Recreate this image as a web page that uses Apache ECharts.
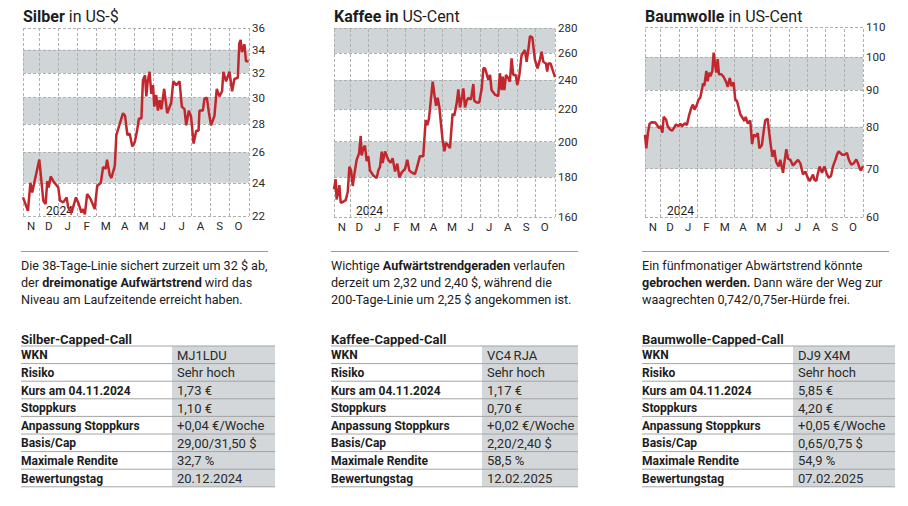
<!DOCTYPE html>
<html><head><meta charset="utf-8">
<script src="https://cdn.jsdelivr.net/npm/echarts@6/dist/echarts.min.js"></script>
<style>html,body{margin:0;padding:0;background:#fff}#c{width:908px;height:506px}</style>
</head><body><div id="c"></div>
<script>
const months = ['N','D','J','F','M','A','M','J','J','A','S','O'];
const monthCenters = [0.57,1.5,2.5,3.5,4.5,5.5,6.5,7.5,8.5,9.5,10.5,11.5];
const monthBounds = [1,2,3,4,5,6,7,8,9,10,11];
const xRange = [0.14, 12.05];
const yearLabel = '2024';

const silverTicks = [22,24,26,28,30,32,34,36];
const silverT = [0.14,0.40,0.53,0.63,0.75,1.00,1.21,1.33,1.42,1.49,1.60,1.74,2.00,2.09,2.26,2.44,2.52,2.70,2.93,3.08,3.22,3.31,3.40,3.52,3.70,3.92,4.05,4.24,4.36,4.50,4.57,4.71,4.80,4.98,5.06,5.24,5.41,5.52,5.64,5.76,5.90,6.03,6.15,6.25,6.38,6.46,6.57,6.64,6.71,6.81,6.90,6.99,7.06,7.16,7.25,7.34,7.43,7.58,7.74,7.95,8.06,8.22,8.39,8.51,8.65,8.74,8.88,9.00,9.13,9.27,9.39,9.44,9.62,9.70,9.83,9.93,10.05,10.23,10.35,10.49,10.63,10.70,10.84,11.02,11.16,11.28,11.46,11.54,11.61,11.68,11.81,11.89,12.03];
const silverV = [23.1,22.3,24.0,23.4,24.1,25.5,22.9,22.7,24.1,23.7,24.4,24.1,23.7,22.9,22.8,23.1,22.5,22.2,23.1,22.7,22.2,22.4,22.1,23.3,23.0,22.4,23.8,24.0,25.0,24.9,25.5,24.5,24.3,25.1,27.2,28.0,28.8,28.6,27.2,27.3,26.4,26.7,27.5,28.4,28.4,31.4,31.8,30.1,31.3,32.1,30.3,31.0,29.3,30.2,29.0,29.8,29.1,30.7,28.8,29.6,31.3,31.0,31.3,29.3,29.1,27.9,29.0,28.5,26.6,27.5,27.5,29.0,29.0,29.9,30.0,28.9,27.9,28.6,30.7,30.1,30.5,32.1,31.3,32.1,30.5,31.5,31.6,34.6,34.9,33.8,34.5,33.0,33.0];

const kaffeeTicks = [160,180,200,220,240,260,280];
const kaffeeT = [0.14,0.23,0.28,0.37,0.43,0.50,0.64,0.77,0.88,0.97,1.06,1.15,1.24,1.36,1.49,1.58,1.63,1.72,1.81,1.90,1.99,2.08,2.26,2.44,2.53,2.62,2.71,2.76,2.89,3.07,3.19,3.30,3.43,3.55,3.66,3.79,3.97,4.09,4.20,4.32,4.50,4.59,4.77,4.95,5.08,5.17,5.26,5.35,5.46,5.55,5.64,5.73,5.82,5.90,5.99,6.09,6.17,6.26,6.39,6.53,6.62,6.75,6.84,6.93,7.04,7.11,7.20,7.29,7.38,7.52,7.65,7.70,7.83,7.97,8.10,8.19,8.28,8.46,8.55,8.63,8.81,8.99,9.08,9.17,9.23,9.32,9.41,9.53,9.62,9.71,9.80,9.93,10.02,10.13,10.25,10.43,10.52,10.61,10.70,10.83,10.97,11.11,11.24,11.33,11.42,11.56,11.63,11.69,11.81,11.92,12.05];
const kaffeeV = [173.7,178.9,168.5,172.3,175.8,166.9,167.4,168.2,172.3,185.7,183.6,175.4,181.9,189.4,193.2,203.4,192,196,197.7,188.8,191.6,183.6,180.9,179.6,183.6,185.7,194.2,187.8,194.2,189.4,187.9,190.4,183.1,187.4,179.9,182.6,184.5,189.6,183.6,182.6,181.7,184.5,191.6,191.6,213.2,209.9,214.3,225.1,238.9,229.9,222.4,227.7,221.3,211.2,201.3,194.4,199.2,198.2,196.2,217.1,216.0,224.0,233.5,221.3,228.4,234.2,221.3,225.7,227.7,226.6,237.2,225.7,224.6,224.6,234.2,248.5,248.5,240.1,243.7,233.0,229.9,228.9,244.9,233.0,242.4,233.0,243.7,241.3,238.9,255.9,243.7,243.7,236.5,243.7,258.4,262.3,253.4,262.3,273.3,272.2,254.7,248.5,255.2,261.0,253.4,252.1,246.1,252.1,252.1,247.3,242.1];

const baumTicks = [60,70,80,90,100,110];
const baumT = [0.14,0.21,0.30,0.39,0.52,0.70,0.83,0.92,1.01,1.09,1.16,1.29,1.38,1.49,1.62,1.71,1.83,1.98,2.07,2.16,2.31,2.43,2.56,2.67,2.76,2.84,2.94,3.07,3.16,3.27,3.31,3.38,3.49,3.56,3.64,3.71,3.82,3.89,3.96,4.04,4.11,4.18,4.31,4.44,4.58,4.66,4.77,4.86,4.98,5.07,5.17,5.35,5.46,5.57,5.64,5.75,5.89,5.99,6.08,6.20,6.30,6.39,6.53,6.62,6.71,6.84,6.93,7.02,7.11,7.21,7.30,7.44,7.53,7.68,7.75,7.86,7.95,8.08,8.22,8.41,8.50,8.63,8.77,8.90,9.03,9.14,9.32,9.39,9.50,9.57,9.68,9.81,9.94,10.05,10.17,10.30,10.41,10.54,10.63,10.72,10.81,10.90,11.03,11.17,11.28,11.41,11.54,11.68,11.78,11.87,11.94,12.05];
const baumV = [78.0,74.7,78.4,80.8,81.2,81.1,80.2,79.6,80.2,78.5,82.6,81.9,80.2,79.4,79.0,79.6,80.6,80.2,80.8,80.1,80.9,80.5,83.2,85.0,85.9,84.5,85.4,87.3,87.8,90.6,91.9,91.1,95.6,92.5,95.1,94.0,95.6,101.4,97.8,95.1,99.3,94.6,94.6,93.8,92.2,90.9,93.5,91.1,92.2,87.3,86.8,83.2,82.4,81.5,82.6,80.9,81.6,75.7,78.0,77.6,78.4,74.7,75.5,78.8,81.7,82.1,78.4,75.1,72.7,74.3,71.6,70.5,72.0,69.1,71.2,74.5,72.3,72.0,70.7,71.6,72.0,71.2,68.7,69.4,68.0,67.3,68.7,67.6,67.3,68.7,70.5,69.1,70.5,69.1,68.0,68.4,70.5,72.0,73.2,74.0,73.6,73.2,73.2,73.6,72.0,70.9,71.2,72.1,71.2,70.0,69.6,70.6];

const rowLabels = ['WKN','Risiko','Kurs am 04.11.2024','Stoppkurs','Anpassung Stoppkurs','Basis/Cap','Maximale Rendite','Bewertungstag'];
const silverTable = ['MJ1LDU','Sehr hoch','1,73 €','1,10 €','+0,04 €/Woche','29,00/31,50 $','32,7 %','20.12.2024'];
const kaffeeTable = ['VC4\u2009RJA','Sehr hoch','1,17 €','0,70 €','+0,02 €/Woche','2,20/2,40 $','58,5 %','12.02.2025'];
const baumTable = ['DJ9\u2009X4M','Sehr hoch','5,85 €','4,20 €','+0,05 €/Woche','0,65/0,75 $','54,9 %','07.02.2025'];

const silverText = ['Die 38-Tage-Linie sichert zurzeit um 32 $ ab,','der {b|dreimonatige Aufwärtstrend} wird das','Niveau am Laufzeitende erreicht haben.'];
const kaffeeText = ['Wichtige {b|Aufwärtstrendgeraden} verlaufen','derzeit um 2,32 und 2,40 $, während die','200-Tage-Linie um 2,25 $ angekommen ist.'];
const baumText = ['Ein fünfmonatiger Abwärtstrend könnte','{b|gebrochen werden.} Dann wäre der Weg zur','waagrechten 0,742/0,75er-Hürde frei.'];

const panels = [
  {name:'Silber', unit:' in US-$', t:silverT, v:silverV, ticks:silverTicks, text:silverText, table:silverTable, tableTitle:'Silber-Capped-Call'},
  {name:'Kaffee in', unit:' US-Cent', t:kaffeeT, v:kaffeeV, ticks:kaffeeTicks, text:kaffeeText, table:kaffeeTable, tableTitle:'Kaffee-Capped-Call'},
  {name:'Baumwolle', unit:' in US-Cent', t:baumT, v:baumV, ticks:baumTicks, text:baumText, table:baumTable, tableTitle:'Baumwolle-Capped-Call'}
];

// layout only
const FF = 'Roboto, "Noto Sans", sans-serif';
const layout = [
  {grid:{left:23, top:28, width:226, height:188}, x0:21, box:[172,275], sep:268, yr:46},
  {grid:{left:334, top:28, width:221, height:189}, x0:331, box:[482,578], sep:578, yr:356},
  {grid:{left:645, top:27, width:218, height:190}, x0:642, box:[793,895], sep:889, yr:667}
];
const RED = '#c1272d', BAND = '#d0d5d7', GRIDC = '#b0b0b0', TXT = '#1c1c1c';

const grids = [], xAxes = [], yAxes = [], series = [], graphics = [];
panels.forEach((p, i) => {
  const L = layout[i];
  grids.push(L.grid);
  xAxes.push({type:'value', gridIndex:i, min:xRange[0], max:xRange[1],
    axisLine:{show:false}, axisTick:{show:false}, splitLine:{show:false},
    axisLabel:{customValues:monthCenters, margin:4, color:'#2a2a2a', fontSize:11.5, fontFamily:FF,
      formatter: v => { let k = 0, d = 1e9; monthCenters.forEach((c, j) => { if (Math.abs(c - v) < d) { d = Math.abs(c - v); k = j; } }); return months[k]; }}});
  yAxes.push({type:'log', gridIndex:i, position:'right', min:p.ticks[0], max:p.ticks[p.ticks.length-1],
    axisLine:{show:false}, axisTick:{show:false}, splitLine:{show:false},
    axisLabel:{customValues:p.ticks, margin:3, color:'#2a2a2a', fontSize:11.5, fontFamily:FF}});
  const bands = [];
  for (let k = 1; k + 1 < p.ticks.length; k += 2) bands.push([{yAxis:p.ticks[k]}, {yAxis:p.ticks[k+1]}]);
  const lines = p.ticks.map(v => ({yAxis:v}))
    .concat([xRange[0]].concat(monthBounds, [xRange[1]]).map(v => ({xAxis:v})));
  series.push({type:'line', xAxisIndex:i, yAxisIndex:i, data:p.t.map((t, k) => [t, p.v[k]]),
    symbol:'none', silent:true, z:5, lineStyle:{color:RED, width:2.5}, itemStyle:{color:RED},
    markArea:{silent:true, itemStyle:{color:BAND}, data:bands},
    markLine:{silent:true, symbol:['none','none'], label:{show:false}, animation:false,
      lineStyle:{color:GRIDC, type:[3,2], width:1}, data:lines}});

  // title
  graphics.push({type:'text', style:{x:L.grid.left, y:16, text:'{b|' + p.name + '}' + p.unit,
    fontFamily:FF, fontSize:16, fill:TXT, verticalAlign:'middle', textVerticalAlign:'middle',
    rich:{b:{fontWeight:'bold', fontFamily:FF, fontSize:16, fill:TXT}}}});
  graphics.push({type:'text', style:{x:L.yr, y:211, text:yearLabel, fontFamily:FF, fontSize:12, fill:TXT, verticalAlign:'middle', textVerticalAlign:'middle'}});
  // separator
  graphics.push({type:'line', shape:{x1:L.x0, y1:251.5, x2:L.sep, y2:251.5}, style:{stroke:'#9a9a9a', lineWidth:1}});
  p.text.forEach((s, k) => {
    graphics.push({type:'text', style:{x:L.x0, y:265 + k*17.3, text:s, fontFamily:FF, fontSize:12.6, fill:TXT,
      verticalAlign:'middle', textVerticalAlign:'middle', rich:{b:{fontWeight:'bold', fontFamily:FF, fontSize:12.6, fill:TXT}}}});
  });
  // table
  graphics.push({type:'text', style:{x:L.x0, y:339, text:p.tableTitle, fontFamily:FF, fontSize:13, fontWeight:'bold', fill:TXT, verticalAlign:'middle', textVerticalAlign:'middle'}});
  const top = 346, rh = 17.6;
  graphics.push({type:'rect', shape:{x:L.box[0], y:top, width:L.box[1]-L.box[0], height:rh*rowLabels.length}, style:{fill:'#d3d7d9'}});
  for (let r = 0; r <= rowLabels.length; r++) {
    graphics.push({type:'line', shape:{x1:L.x0, y1:top + r*rh, x2:L.box[1], y2:top + r*rh}, style:{stroke:'#a4a4a4', lineWidth:1}});
  }
  rowLabels.forEach((lab, r) => {
    graphics.push({type:'text', style:{x:L.x0, y:top + r*rh + rh/2 + 0.5, text:lab, fontFamily:FF, fontSize:12, fontWeight:'bold', fill:TXT, verticalAlign:'middle', textVerticalAlign:'middle'}});
    graphics.push({type:'text', style:{x:L.box[0] + 5, y:top + r*rh + rh/2 + 0.5, text:p.table[r], fontFamily:FF, fontSize:13, fill:'#2a2a2a', verticalAlign:'middle', textVerticalAlign:'middle'}});
  });
});

const chart = echarts.init(document.getElementById('c'), null, {renderer:'svg'});
chart.setOption({animation:false, grid:grids, xAxis:xAxes, yAxis:yAxes, series:series, graphic:graphics});
</script></body></html>
